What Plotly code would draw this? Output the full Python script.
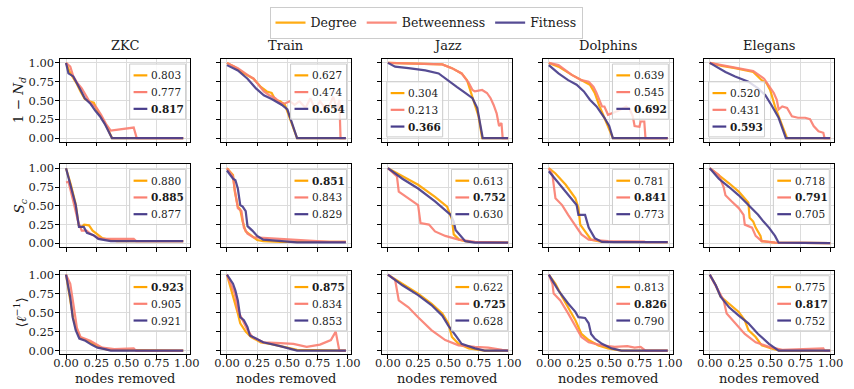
import plotly.graph_objects as go

# ---------------- data ----------------
NETWORKS = ["ZKC", "Train", "Jazz", "Dolphins", "Elegans"]
METRIC_LABELS = ["1 − <i>N</i><sub><i>d</i></sub>",
                 "<i>S</i><sub><i>c</i></sub>",
                 "⟨<i>ℓ</i><sup>−1</sup>⟩"]
SERIES = ["Degree", "Betweenness", "Fitness"]
COLORS = ["#FFA500", "#FA8072", "#483D8B"]
TICKS = [0, 0.25, 0.5, 0.75, 1.0]
TICK_LABELS = ["0.00", "0.25", "0.50", "0.75", "1.00"]
X_LABEL = "nodes removed"

# Legend values per panel: [Degree, Betweenness, Fitness]
AUC_ND = [[0.803, 0.777, 0.817], [0.627, 0.474, 0.654], [0.304, 0.213, 0.366],
          [0.639, 0.545, 0.692], [0.520, 0.431, 0.593]]
AUC_SC = [[0.880, 0.885, 0.877], [0.851, 0.843, 0.829], [0.613, 0.752, 0.630],
          [0.781, 0.841, 0.773], [0.718, 0.791, 0.705]]
AUC_IL = [[0.923, 0.905, 0.921], [0.875, 0.834, 0.853], [0.622, 0.725, 0.628],
          [0.813, 0.826, 0.790], [0.775, 0.817, 0.752]]
LEGEND_LOC_ND = ["ur", "ur", "ll", "ur", "ll"]

# ---- ZKC ----
ZKC_ND_DEG = [(0, 1.0), (0.03, 0.88), (0.06, 0.80), (0.09, 0.72), (0.12, 0.62), (0.155, 0.52),
              (0.19, 0.49), (0.23, 0.47), (0.26, 0.36), (0.30, 0.26), (0.34, 0.14), (0.38, 0.0), (0.97, 0.0)]
ZKC_ND_BTW = [(0, 1.0), (0.035, 0.95), (0.06, 0.82), (0.09, 0.74), (0.13, 0.66), (0.17, 0.54),
              (0.20, 0.47), (0.25, 0.41), (0.29, 0.31), (0.33, 0.19), (0.35, 0.14), (0.37, 0.10),
              (0.56, 0.14), (0.585, 0.0), (0.97, 0.0)]
ZKC_ND_FIT = [(0, 1.0), (0.02, 0.86), (0.06, 0.82), (0.09, 0.72), (0.12, 0.64), (0.155, 0.53),
              (0.20, 0.46), (0.24, 0.37), (0.28, 0.29), (0.32, 0.19), (0.38, 0.0), (0.97, 0.0)]
ZKC_SC_DEG = [(0, 1.0), (0.04, 0.78), (0.08, 0.52), (0.105, 0.24), (0.13, 0.22), (0.15, 0.25),
              (0.19, 0.24), (0.22, 0.17), (0.26, 0.12), (0.30, 0.07), (0.35, 0.05), (0.42, 0.03), (0.97, 0.03)]
ZKC_SC_BTW = [(0, 0.81), (0.02, 0.82), (0.06, 0.56), (0.10, 0.29), (0.13, 0.17), (0.17, 0.17),
              (0.20, 0.13), (0.26, 0.08), (0.30, 0.06), (0.56, 0.06), (0.58, 0.03), (0.97, 0.03)]
ZKC_SC_FIT = [(0, 1.0), (0.04, 0.76), (0.08, 0.51), (0.107, 0.22), (0.147, 0.22), (0.173, 0.14),
              (0.227, 0.11), (0.267, 0.06), (0.307, 0.05), (0.37, 0.03), (0.97, 0.03)]
ZKC_IL_DEG = [(0, 1.0), (0.03, 0.72), (0.06, 0.42), (0.09, 0.26), (0.12, 0.17), (0.20, 0.11),
              (0.28, 0.04), (0.35, 0.01), (0.97, 0.0)]
ZKC_IL_BTW = [(0, 1.0), (0.035, 0.88), (0.06, 0.62), (0.09, 0.30), (0.12, 0.18), (0.20, 0.13),
              (0.30, 0.04), (0.40, 0.02), (0.56, 0.03), (0.58, 0.0), (0.97, 0.0)]
ZKC_IL_FIT = [(0, 1.0), (0.035, 0.70), (0.055, 0.44), (0.08, 0.27), (0.11, 0.16), (0.16, 0.13),
              (0.21, 0.08), (0.26, 0.04), (0.32, 0.02), (0.37, 0.0), (0.97, 0.0)]

# ---- Train ----
TRAIN_ND_DEG = [(0, 1.0), (0.06, 0.95), (0.14, 0.86), (0.22, 0.79), (0.28, 0.68), (0.33, 0.62),
                (0.37, 0.60), (0.40, 0.51), (0.44, 0.49), (0.48, 0.44), (0.58, 0.0), (0.984, 0.0)]
TRAIN_ND_BTW = [(0, 1.0), (0.09, 0.93), (0.17, 0.84), (0.22, 0.79), (0.25, 0.73), (0.305, 0.62),
                (0.35, 0.57), (0.40, 0.53), (0.44, 0.47), (0.48, 0.46), (0.52, 0.49), (0.56, 0.44),
                (0.60, 0.49), (0.65, 0.40), (0.69, 0.53), (0.73, 0.38), (0.77, 0.49), (0.81, 0.40),
                (0.85, 0.44), (0.88, 0.55), (0.91, 0.38), (0.93, 0.51), (0.94, 0.0), (0.984, 0.0)]
TRAIN_ND_FIT = [(0, 0.97), (0.09, 0.90), (0.17, 0.79), (0.24, 0.66), (0.305, 0.57), (0.37, 0.52),
                (0.455, 0.44), (0.50, 0.38), (0.58, 0.0), (0.984, 0.0)]
TRAIN_SC_DEG = [(0, 1.0), (0.05, 0.91), (0.065, 0.69), (0.09, 0.49), (0.11, 0.45), (0.13, 0.29),
                (0.155, 0.16), (0.20, 0.10), (0.25, 0.045), (0.30, 0.03), (0.44, 0.02), (0.984, 0.02)]
TRAIN_SC_BTW = [(0, 1.0), (0.05, 0.89), (0.065, 0.71), (0.09, 0.47), (0.12, 0.43), (0.14, 0.21),
                (0.17, 0.13), (0.22, 0.08), (0.30, 0.075), (0.44, 0.06), (0.60, 0.04), (0.85, 0.02),
                (0.984, 0.02)]
TRAIN_SC_FIT = [(0, 0.97), (0.05, 0.86), (0.07, 0.84), (0.09, 0.73), (0.11, 0.51), (0.13, 0.49),
                (0.155, 0.43), (0.17, 0.23), (0.21, 0.17), (0.25, 0.10), (0.30, 0.05), (0.44, 0.03),
                (0.58, 0.015), (0.984, 0.015)]
TRAIN_IL_DEG = [(0, 1.0), (0.03, 0.84), (0.06, 0.66), (0.09, 0.49), (0.11, 0.36), (0.155, 0.25),
                (0.20, 0.18), (0.28, 0.11), (0.36, 0.09), (0.44, 0.06), (0.58, 0.01), (0.984, 0.0)]
TRAIN_IL_BTW = [(0, 1.0), (0.03, 0.88), (0.065, 0.75), (0.09, 0.53), (0.13, 0.40), (0.17, 0.27),
                (0.21, 0.18), (0.30, 0.11), (0.44, 0.10), (0.55, 0.09), (0.66, 0.05), (0.77, 0.08),
                (0.86, 0.14), (0.90, 0.25), (0.93, 0.0), (0.984, 0.0)]
TRAIN_IL_FIT = [(0, 1.0), (0.05, 0.88), (0.07, 0.79), (0.09, 0.66), (0.11, 0.44), (0.14, 0.40),
                (0.17, 0.31), (0.19, 0.20), (0.24, 0.16), (0.30, 0.11), (0.44, 0.06), (0.58, 0.0),
                (0.984, 0.0)]

# ---- Jazz ----
JAZZ_ND_DEG = [(0, 1.0), (0.23, 0.99), (0.45, 0.98), (0.53, 0.93), (0.61, 0.86), (0.655, 0.77),
               (0.68, 0.64), (0.72, 0.46), (0.75, 0.29), (0.78, 0.0), (0.995, 0.0)]
JAZZ_ND_BTW = [(0, 1.0), (0.45, 0.98), (0.53, 0.93), (0.61, 0.86), (0.67, 0.73), (0.70, 0.64),
               (0.72, 0.62), (0.78, 0.64), (0.82, 0.60), (0.85, 0.53), (0.875, 0.44), (0.90, 0.33),
               (0.92, 0.16), (0.94, 0.20), (0.95, 0.0), (0.995, 0.0)]
JAZZ_ND_FIT = [(0, 1.0), (0.06, 0.95), (0.17, 0.93), (0.31, 0.90), (0.42, 0.86), (0.50, 0.77),
               (0.57, 0.68), (0.64, 0.60), (0.70, 0.53), (0.74, 0.40), (0.765, 0.20), (0.785, 0.0),
               (0.995, 0.0)]
JAZZ_SC_DEG = [(0, 1.0), (0.12, 0.89), (0.25, 0.78), (0.39, 0.62), (0.49, 0.49), (0.53, 0.32),
               (0.545, 0.12), (0.59, 0.05), (0.67, 0.02), (0.995, 0.01)]
JAZZ_SC_BTW = [(0, 1.0), (0.075, 0.89), (0.09, 0.69), (0.17, 0.60), (0.25, 0.51), (0.27, 0.27),
               (0.34, 0.25), (0.39, 0.16), (0.475, 0.10), (0.585, 0.05), (0.72, 0.02), (0.995, 0.01)]
JAZZ_SC_FIT = [(0, 1.0), (0.12, 0.86), (0.25, 0.73), (0.39, 0.56), (0.52, 0.38), (0.545, 0.29),
               (0.56, 0.18), (0.60, 0.10), (0.64, 0.03), (0.72, 0.01), (0.995, 0.01)]
JAZZ_IL_DEG = [(0, 1.0), (0.12, 0.88), (0.25, 0.75), (0.36, 0.62), (0.45, 0.49), (0.50, 0.36),
               (0.53, 0.18), (0.585, 0.09), (0.67, 0.03), (0.80, 0.0), (0.995, 0.0)]
JAZZ_IL_BTW = [(0, 1.0), (0.06, 0.93), (0.09, 0.66), (0.17, 0.57), (0.25, 0.44), (0.36, 0.27),
               (0.475, 0.14), (0.585, 0.07), (0.72, 0.05), (0.83, 0.04), (0.945, 0.01), (0.995, 0.0)]
JAZZ_IL_FIT = [(0, 1.0), (0.12, 0.86), (0.25, 0.73), (0.36, 0.60), (0.45, 0.46), (0.50, 0.33),
               (0.56, 0.20), (0.61, 0.09), (0.72, 0.03), (0.80, 0.0), (0.995, 0.0)]

# ---- Dolphins ----
DOL_ND_DEG = [(0, 1.0), (0.08, 0.95), (0.19, 0.84), (0.27, 0.77), (0.34, 0.71), (0.38, 0.60),
              (0.42, 0.42), (0.46, 0.27), (0.50, 0.11), (0.53, 0.0), (0.984, 0.0)]
DOL_ND_BTW = [(0, 1.0), (0.08, 0.97), (0.14, 0.90), (0.19, 0.84), (0.27, 0.77), (0.33, 0.75),
              (0.37, 0.68), (0.395, 0.60), (0.44, 0.42), (0.46, 0.42), (0.49, 0.31), (0.57, 0.36),
              (0.64, 0.42), (0.67, 0.38), (0.695, 0.29), (0.71, 0.16), (0.75, 0.15), (0.76, 0.22),
              (0.79, 0.22), (0.80, 0.0), (0.984, 0.0)]
DOL_ND_FIT = [(0, 0.97), (0.08, 0.86), (0.16, 0.77), (0.23, 0.71), (0.29, 0.62), (0.34, 0.51),
              (0.395, 0.42), (0.46, 0.27), (0.50, 0.16), (0.53, 0.0), (0.984, 0.0)]
DOL_SC_DEG = [(0, 1.0), (0.055, 0.93), (0.14, 0.78), (0.22, 0.60), (0.245, 0.47), (0.26, 0.25),
              (0.30, 0.16), (0.35, 0.05), (0.44, 0.02), (0.984, 0.016)]
DOL_SC_BTW = [(0, 1.0), (0.03, 0.91), (0.055, 0.60), (0.11, 0.51), (0.16, 0.38), (0.22, 0.23),
              (0.27, 0.12), (0.33, 0.05), (0.49, 0.03), (0.79, 0.025), (0.80, 0.016), (0.984, 0.016)]
DOL_SC_FIT = [(0, 0.96), (0.08, 0.80), (0.16, 0.64), (0.23, 0.51), (0.245, 0.38), (0.30, 0.38),
              (0.33, 0.21), (0.35, 0.16), (0.38, 0.07), (0.44, 0.02), (0.545, 0.016), (0.984, 0.016)]
DOL_IL_DEG = [(0, 1.0), (0.055, 0.88), (0.11, 0.71), (0.16, 0.57), (0.22, 0.40), (0.27, 0.22),
              (0.33, 0.14), (0.41, 0.07), (0.49, 0.03), (0.60, 0.0), (0.984, 0.0)]
DOL_IL_BTW = [(0, 1.0), (0.03, 0.88), (0.04, 0.75), (0.095, 0.66), (0.16, 0.49), (0.22, 0.31),
              (0.27, 0.18), (0.33, 0.11), (0.44, 0.07), (0.545, 0.05), (0.65, 0.06), (0.71, 0.04),
              (0.76, 0.05), (0.80, 0.0), (0.984, 0.0)]
DOL_IL_FIT = [(0, 1.0), (0.08, 0.79), (0.16, 0.62), (0.22, 0.51), (0.245, 0.44), (0.30, 0.43),
              (0.33, 0.36), (0.35, 0.22), (0.38, 0.16), (0.44, 0.09), (0.52, 0.03), (0.60, 0.0),
              (0.984, 0.0)]

# ---- Elegans ----
ELE_ND_DEG = [(0, 1.0), (0.10, 0.96), (0.21, 0.93), (0.36, 0.88), (0.43, 0.77), (0.47, 0.73),
              (0.50, 0.64), (0.54, 0.42), (0.58, 0.25), (0.62, 0.07), (0.64, 0.0), (0.997, 0.0)]
ELE_ND_BTW = [(0, 1.0), (0.10, 0.97), (0.21, 0.93), (0.36, 0.89), (0.45, 0.79), (0.50, 0.68),
              (0.53, 0.60), (0.555, 0.51), (0.57, 0.38), (0.60, 0.42), (0.64, 0.40), (0.68, 0.29),
              (0.73, 0.27), (0.79, 0.27), (0.83, 0.25), (0.86, 0.16), (0.90, 0.09), (0.94, 0.07),
              (0.95, 0.0), (0.997, 0.0)]
ELE_ND_FIT = [(0, 1.0), (0.05, 0.95), (0.13, 0.88), (0.21, 0.82), (0.32, 0.75), (0.40, 0.66),
              (0.46, 0.57), (0.51, 0.44), (0.57, 0.27), (0.61, 0.09), (0.63, 0.0), (0.997, 0.0)]
ELE_SC_DEG = [(0, 1.0), (0.075, 0.91), (0.16, 0.80), (0.24, 0.69), (0.29, 0.60), (0.32, 0.54),
              (0.33, 0.34), (0.36, 0.29), (0.38, 0.21), (0.42, 0.10), (0.43, 0.03), (0.54, 0.01),
              (0.997, 0.003)]
ELE_SC_BTW = [(0, 1.0), (0.075, 0.91), (0.115, 0.75), (0.13, 0.64), (0.18, 0.56), (0.24, 0.47),
              (0.28, 0.38), (0.29, 0.25), (0.35, 0.21), (0.38, 0.10), (0.43, 0.03), (0.54, 0.01),
              (0.997, 0.003)]
ELE_SC_FIT = [(0, 1.0), (0.075, 0.86), (0.16, 0.75), (0.24, 0.64), (0.32, 0.51), (0.40, 0.38),
              (0.445, 0.29), (0.49, 0.21), (0.54, 0.10), (0.57, 0.01), (0.997, 0.003)]
ELE_IL_DEG = [(0, 1.0), (0.05, 0.86), (0.09, 0.71), (0.16, 0.62), (0.24, 0.51), (0.29, 0.40),
              (0.32, 0.27), (0.38, 0.18), (0.43, 0.07), (0.51, 0.03), (0.58, 0.0), (0.997, 0.0)]
ELE_IL_BTW = [(0, 1.0), (0.06, 0.82), (0.115, 0.66), (0.14, 0.49), (0.21, 0.36), (0.29, 0.22),
              (0.38, 0.11), (0.49, 0.05), (0.60, 0.01), (0.94, 0.03), (0.95, 0.0), (0.997, 0.0)]
ELE_IL_FIT = [(0, 1.0), (0.05, 0.86), (0.09, 0.71), (0.16, 0.57), (0.24, 0.46), (0.32, 0.36),
              (0.40, 0.22), (0.49, 0.09), (0.57, 0.0), (0.997, 0.0)]

CURVES = [
    [[ZKC_ND_DEG, ZKC_ND_BTW, ZKC_ND_FIT], [TRAIN_ND_DEG, TRAIN_ND_BTW, TRAIN_ND_FIT],
     [JAZZ_ND_DEG, JAZZ_ND_BTW, JAZZ_ND_FIT], [DOL_ND_DEG, DOL_ND_BTW, DOL_ND_FIT],
     [ELE_ND_DEG, ELE_ND_BTW, ELE_ND_FIT]],
    [[ZKC_SC_DEG, ZKC_SC_BTW, ZKC_SC_FIT], [TRAIN_SC_DEG, TRAIN_SC_BTW, TRAIN_SC_FIT],
     [JAZZ_SC_DEG, JAZZ_SC_BTW, JAZZ_SC_FIT], [DOL_SC_DEG, DOL_SC_BTW, DOL_SC_FIT],
     [ELE_SC_DEG, ELE_SC_BTW, ELE_SC_FIT]],
    [[ZKC_IL_DEG, ZKC_IL_BTW, ZKC_IL_FIT], [TRAIN_IL_DEG, TRAIN_IL_BTW, TRAIN_IL_FIT],
     [JAZZ_IL_DEG, JAZZ_IL_BTW, JAZZ_IL_FIT], [DOL_IL_DEG, DOL_IL_BTW, DOL_IL_FIT],
     [ELE_IL_DEG, ELE_IL_BTW, ELE_IL_FIT]],
]
AUCS = [AUC_ND, AUC_SC, AUC_IL]

# ---------------- layout geometry (pixels) ----------------
W, H = 854, 389
COL_LEFT = [54, 218, 382, 546, 710]
PW = 133
ROW_TOP = [57, 164, 272]
PH = [84, 84, 85]
FONT = "DejaVu Serif"
TXT = "#1a1a1a"

fig = go.Figure()
shapes, annotations = [], []

for r in range(3):
    for c in range(5):
        idx = r * 5 + c + 1
        sfx = "" if idx == 1 else str(idx)
        for s in range(3):
            pts = CURVES[r][c][s]
            fig.add_trace(go.Scatter(
                x=[p[0] for p in pts], y=[p[1] for p in pts], mode="lines",
                line=dict(color=COLORS[s], width=2.2), opacity=0.92,
                name=SERIES[s], showlegend=(idx == 1), hoverinfo="skip",
                xaxis="x" + sfx, yaxis="y" + sfx))
        x0 = COL_LEFT[c] / W
        x1 = (COL_LEFT[c] + PW) / W
        y1 = 1 - ROW_TOP[r] / H
        y0 = 1 - (ROW_TOP[r] + PH[r]) / H
        common = dict(tickvals=TICKS, ticktext=TICK_LABELS, ticks="outside", ticklen=3.5,
                      tickwidth=0.8, tickcolor="black", showline=True, linecolor="black",
                      linewidth=1, mirror=True, showgrid=True, gridcolor="#dcdcdc",
                      gridwidth=0.8, zeroline=False,
                      tickfont=dict(family=FONT, size=11.5, color=TXT))
        fig.layout["xaxis" + sfx] = dict(domain=[x0, x1], anchor="y" + sfx,
                                         range=[-0.05, 1.03], showticklabels=(r == 2),
                                         ticklabelstandoff=-6, **common)
        fig.layout["yaxis" + sfx] = dict(domain=[y0, y1], anchor="x" + sfx,
                                         range=[-0.05, 1.05], showticklabels=(c == 0),
                                         ticklabelstandoff=-1, **common)

        # in-panel legend box
        loc = LEGEND_LOC_ND[c] if r == 0 else "ur"
        bw, bh = 57, 56
        if loc == "ur":
            bl, bt = PW - 5 - bw, 5
        else:
            bl, bt = 5, PH[r] - 5 - bh
        xr = "x" + sfx + " domain"
        yr = "y" + sfx + " domain"
        fx = lambda px: px / PW
        fy = lambda py, rr=r: 1 - py / PH[rr]
        shapes.append(dict(type="rect", xref=xr, yref=yr, x0=fx(bl), x1=fx(bl + bw),
                           y0=fy(bt + bh), y1=fy(bt), line=dict(color="#cccccc", width=1),
                           fillcolor="rgba(255,255,255,0.8)", layer="above"))
        vals = AUCS[r][c]
        best = max(vals)
        for s in range(3):
            cy = bt + 11.5 + 17 * s
            shapes.append(dict(type="line", xref=xr, yref=yr, x0=fx(bl + 4), x1=fx(bl + 18),
                               y0=fy(cy), y1=fy(cy), line=dict(color=COLORS[s], width=2.2),
                               layer="above"))
            txt = f"{vals[s]:.3f}"
            if vals[s] == best:
                txt = f"<b>{txt}</b>"
            annotations.append(dict(xref=xr, yref=yr, x=fx(bl + 20), y=fy(cy), text=txt,
                                    showarrow=False, xanchor="left", yanchor="middle",
                                    font=dict(family=FONT, size=10.5, color=TXT)))

# column titles and x labels
for c, name in enumerate(NETWORKS):
    annotations.append(dict(xref="paper", yref="paper", x=(COL_LEFT[c] + PW / 2) / W,
                            y=1 - 43 / H, text=name, showarrow=False, xanchor="center",
                            yanchor="middle", font=dict(family=FONT, size=13, color=TXT)))
    annotations.append(dict(xref="paper", yref="paper", x=(COL_LEFT[c] + PW / 2) / W,
                            y=1 - 381 / H, text=X_LABEL, showarrow=False, xanchor="center",
                            yanchor="middle", font=dict(family=FONT, size=13, color=TXT)))
# row labels
for r, lab in enumerate(METRIC_LABELS):
    annotations.append(dict(xref="paper", yref="paper", x=13 / W,
                            y=1 - (ROW_TOP[r] + PH[r] / 2) / H, text=lab, showarrow=False,
                            textangle=-90, xanchor="center", yanchor="middle",
                            font=dict(family=FONT, size=13.5, color=TXT)))

fig.update_layout(
    width=W, height=H, margin=dict(l=0, r=0, t=0, b=0),
    plot_bgcolor="white", paper_bgcolor="white",
    shapes=shapes, annotations=annotations,
    legend=dict(orientation="h", x=0.5, xanchor="center", y=1 - 4 / H, yanchor="top",
                bordercolor="#cccccc", borderwidth=1, bgcolor="white",
                font=dict(family=FONT, size=12.5, color=TXT), itemwidth=30),
)

fig.write_html("out.html")
